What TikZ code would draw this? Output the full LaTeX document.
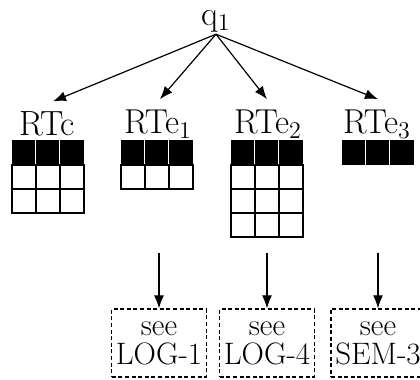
\documentclass[tikz,border=0pt]{standalone}
\usepackage{amsmath}
\usepackage{amssymb}
\usepackage{tikz}
\usetikzlibrary{positioning,calc,arrows.meta}

\tikzset{
    lbl/.style={font=\fontsize{17.5}{18}\selectfont, inner sep=1pt},
    seebox/.style={draw, dash pattern=on 2pt off 1.3pt, line width=0.6pt, align=center,
        minimum width=47pt, minimum height=34pt, inner sep=2pt,
        font=\fontsize{15.5}{14.5}\selectfont},
    arr/.style={-{Latex[length=6.5pt,width=5pt]}, line width=0.6pt}
}

% header row of a table: black, white separators
\newcommand{\rthead}[2]{%
    \fill (#1,#2) rectangle ++(72,25);
    \draw[white, line width=0.5pt] (#1+24,#2) -- ++(0,25) (#1+48,#2) -- ++(0,25);
}
% white rows below the header
\newcommand{\rtbody}[3]{%
    \foreach \r in {1,...,#3}
        \foreach \c in {0,1,2}
            \draw[line width=0.7pt] ({#1+24*\c},{#2+24*(\r-1)}) rectangle ++(24,24);
}

\begin{document}
\begin{tikzpicture}[x=0.5pt, y=-0.5pt]
    \useasboundingbox (0,0) rectangle (420,380);
    \node[lbl] (q1) at (216,21) {$\mathrm{q}_1$};
    \node[lbl] (RTc) at (47,124) {RTc};
    \node[lbl] (RTe1) at (158,124) {$\mathrm{RTe}_1$};
    \node[lbl] (RTe2) at (268,124) {$\mathrm{RTe}_2$};
    \node[lbl] (RTe3) at (377,124) {$\mathrm{RTe}_3$};

    \rthead{12}{140}
    \rtbody{12}{165}{2}
    \rthead{121}{140}
    \rtbody{121}{165}{1}
    \rthead{231}{140}
    \rtbody{231}{165}{3}
    \rthead{342}{140}

    \node[seebox] (LOG1) at (159,343) {see\\LOG-1};
    \node[seebox] (LOG4) at (267,343) {see\\LOG-4};
    \node[seebox] (SEM3) at (378,343) {see\\SEM-3};

    \coordinate (d1) at (159,253);
    \coordinate (d2) at (267,253);
    \coordinate (d3) at (378,253);

    \draw[arr] (q1.south) -- ($(RTc.north)+(6,-8)$);
    \draw[arr] (q1.south) -- ($(RTe1.north)+(2,-8)$);
    \draw[arr] (q1.south) -- ($(RTe2.north)+(-1,-8)$);
    \draw[arr] (q1.south) -- ($(RTe3.north)+(1,-8)$);
    \draw[arr] (d1) -- (LOG1.north);
    \draw[arr] (d2) -- (LOG4.north);
    \draw[arr] (d3) -- (SEM3.north);
\end{tikzpicture}
\end{document}
